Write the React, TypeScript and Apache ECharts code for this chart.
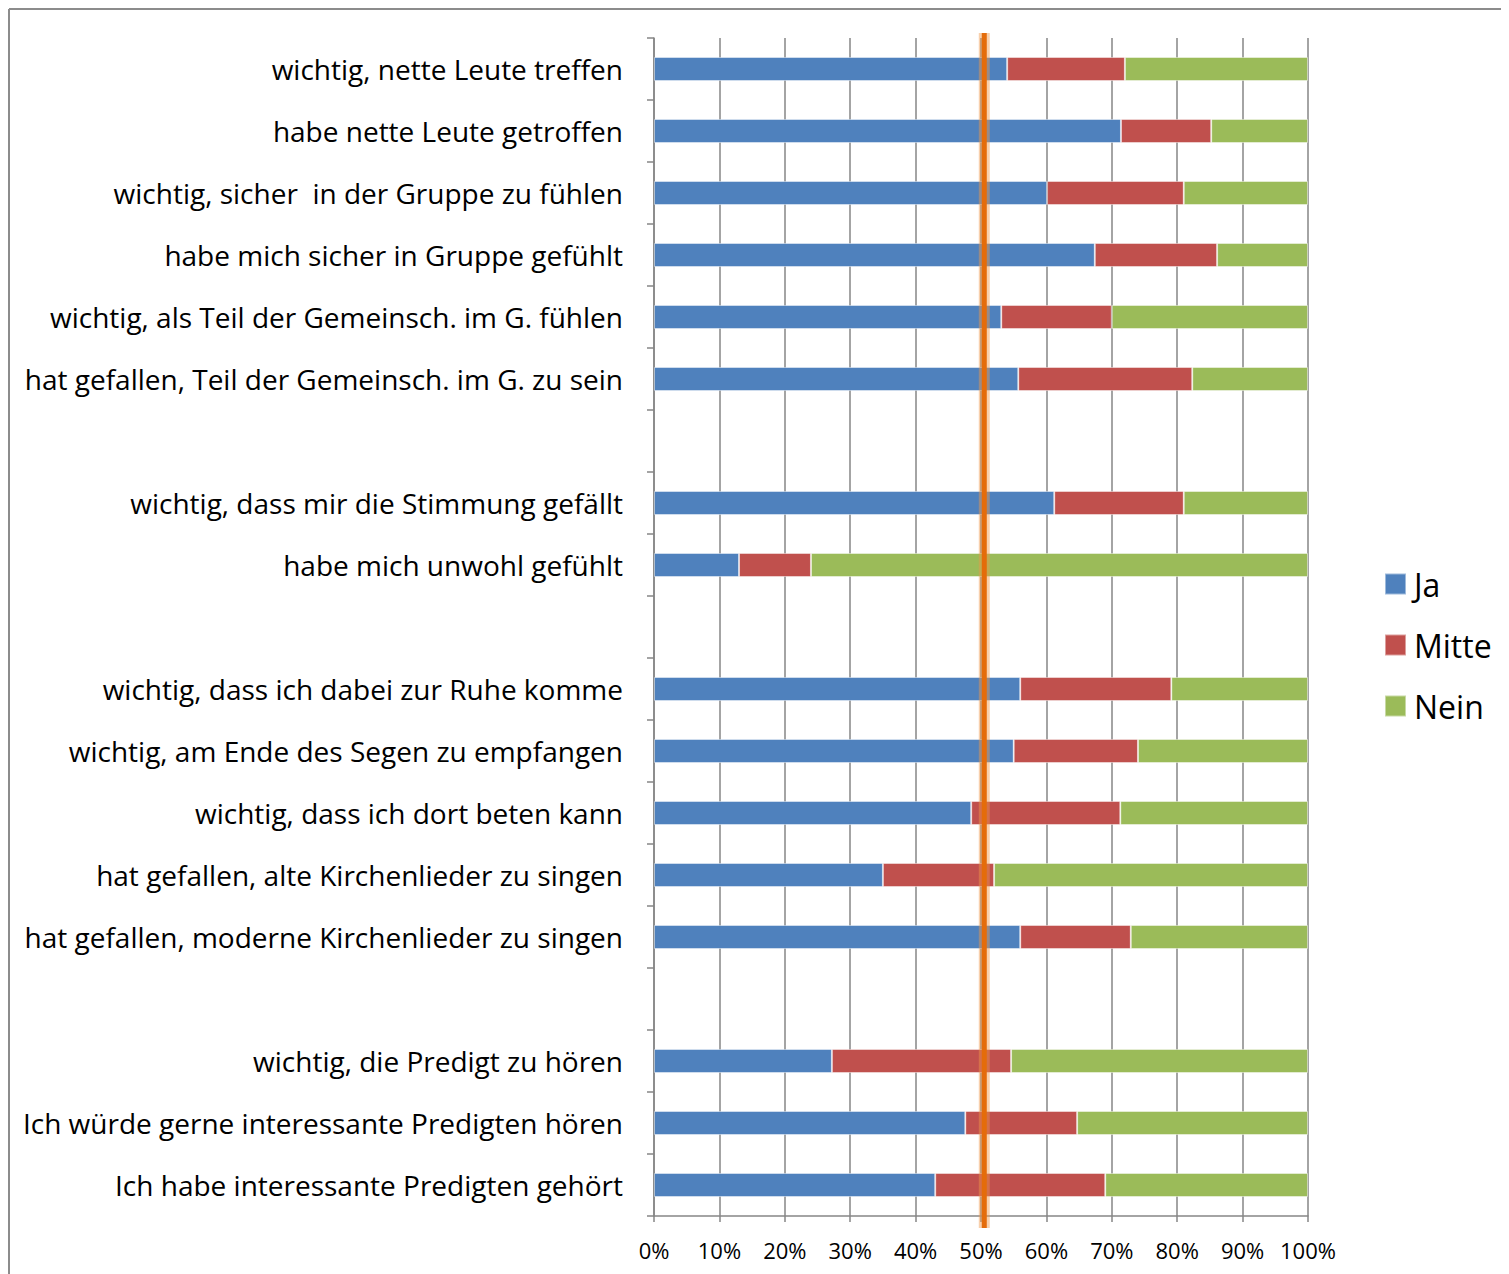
import React, { useEffect, useRef } from "react";
import * as echarts from "echarts";

const categories = [
  "wichtig, nette Leute treffen",
  "habe nette Leute getroffen",
  "wichtig, sicher  in der Gruppe zu fühlen",
  "habe mich sicher in Gruppe gefühlt",
  "wichtig, als Teil der Gemeinsch. im G. fühlen",
  "hat gefallen, Teil der Gemeinsch. im G. zu sein",
  " ",
  "wichtig, dass mir die Stimmung gefällt",
  "habe mich unwohl gefühlt",
  "  ",
  "wichtig, dass ich dabei zur Ruhe komme",
  "wichtig, am Ende des Segen zu empfangen",
  "wichtig, dass ich dort beten kann",
  "hat gefallen, alte Kirchenlieder zu singen",
  "hat gefallen, moderne Kirchenlieder zu singen",
  "   ",
  "wichtig, die Predigt zu hören",
  "Ich würde gerne interessante Predigten hören",
  "Ich habe interessante Predigten gehört",
];

const ja = [54.0, 71.4, 60.1, 67.4, 53.1, 55.7, null, 61.2, 13.0, null, 56.0, 55.0, 48.5, 35.0, 56.0, null, 27.2, 47.6, 43.0];
const mitte = [18.0, 13.8, 20.9, 18.7, 16.9, 26.6, null, 19.8, 11.0, null, 23.1, 19.0, 22.8, 17.0, 16.9, null, 27.4, 17.1, 26.0];
const nein = [28.0, 14.8, 19.0, 13.9, 30.0, 17.7, null, 19.0, 76.0, null, 20.9, 26.0, 28.7, 48.0, 27.1, null, 45.4, 35.3, 31.0];

const xTicks = [0, 10, 20, 30, 40, 50, 60, 70, 80, 90, 100];
const referenceLineValue = 50.5;

const FONT = "'Open Sans', 'Noto Sans', sans-serif";

export default function App() {
  const ref = useRef<HTMLDivElement>(null);

  useEffect(() => {
    if (!ref.current) return;
    const chart = echarts.init(ref.current, null, { renderer: "svg" });
    const mkSeries = (name: string, data: (number | null)[], color: string) => ({
      name,
      type: "bar",
      stack: "total",
      barWidth: 24,
      data,
      itemStyle: { color, borderColor: "rgba(255,255,255,0.45)", borderWidth: 1 },
      emphasis: { disabled: true },
    });
    chart.setOption({
      animation: false,
      textStyle: { fontFamily: FONT },
      grid: { left: 646, right: 201, top: 30, bottom: 58, containLabel: false },
      legend: {
        orient: "vertical",
        left: 1371,
        top: 555,
        itemWidth: 21,
        itemHeight: 21,
        itemGap: 29,
        icon: "rect",
        selectedMode: false,
        textStyle: { fontSize: 32, color: "#000", fontFamily: FONT, lineHeight: 32, padding: [0, 0, 0, 3] },
        data: ["Ja", "Mitte", "Nein"],
      },
      xAxis: {
        type: "value",
        min: xTicks[0],
        max: xTicks[xTicks.length - 1],
        interval: 10,
        axisLine: { show: true, lineStyle: { color: "#868686", width: 1.5 } },
        axisTick: { show: true, length: 6, lineStyle: { color: "#868686", width: 1.5 } },
        splitLine: { show: true, lineStyle: { color: "#868686", width: 1.5 } },
        axisLabel: { formatter: "{value}%", fontSize: 22, color: "#000", margin: 23, fontFamily: FONT },
      },
      yAxis: {
        type: "category",
        inverse: true,
        data: categories,
        axisLine: { show: true, lineStyle: { color: "#868686", width: 1.5 } },
        axisTick: { show: true, length: 7, interval: 0, lineStyle: { color: "#868686", width: 1.5 } },
        axisLabel: { fontSize: 28, color: "#000", margin: 31, interval: 0, fontFamily: FONT },
      },
      series: [
        mkSeries("Ja", ja, "#4F81BD"),
        mkSeries("Mitte", mitte, "#C0504D"),
        mkSeries("Nein", nein, "#9BBB59"),
      ],
    });

    const x = chart.convertToPixel({ xAxisIndex: 0 }, referenceLineValue) as number;
    const y0 = chart.convertToPixel({ yAxisIndex: 0 }, categories[0]) as number;
    const y1 = chart.convertToPixel({ yAxisIndex: 0 }, categories[categories.length - 1]) as number;
    const half = (y1 - y0) / (categories.length - 1) / 2;
    const top = y0 - half - 5;
    const bottom = y1 + half + 12;

    chart.setOption({
      graphic: [
        { type: "line", shape: { x1: 1, y1: 1, x2: 3000, y2: 1 }, style: { stroke: "#8c8c8c", lineWidth: 2 }, silent: true },
        { type: "line", shape: { x1: 1, y1: 1, x2: 1, y2: 3000 }, style: { stroke: "#8c8c8c", lineWidth: 2 }, silent: true },
        { type: "line", z: 100, shape: { x1: x, y1: top, x2: x, y2: bottom }, style: { stroke: "rgba(240,150,70,0.45)", lineWidth: 11 }, silent: true },
        { type: "line", z: 101, shape: { x1: x, y1: top, x2: x, y2: bottom }, style: { stroke: "#E46C0A", lineWidth: 5 }, silent: true },
      ],
    });

    return () => chart.dispose();
  }, []);

  return <div ref={ref} style={{ width: 1501, height: 1266 }} />;
}
